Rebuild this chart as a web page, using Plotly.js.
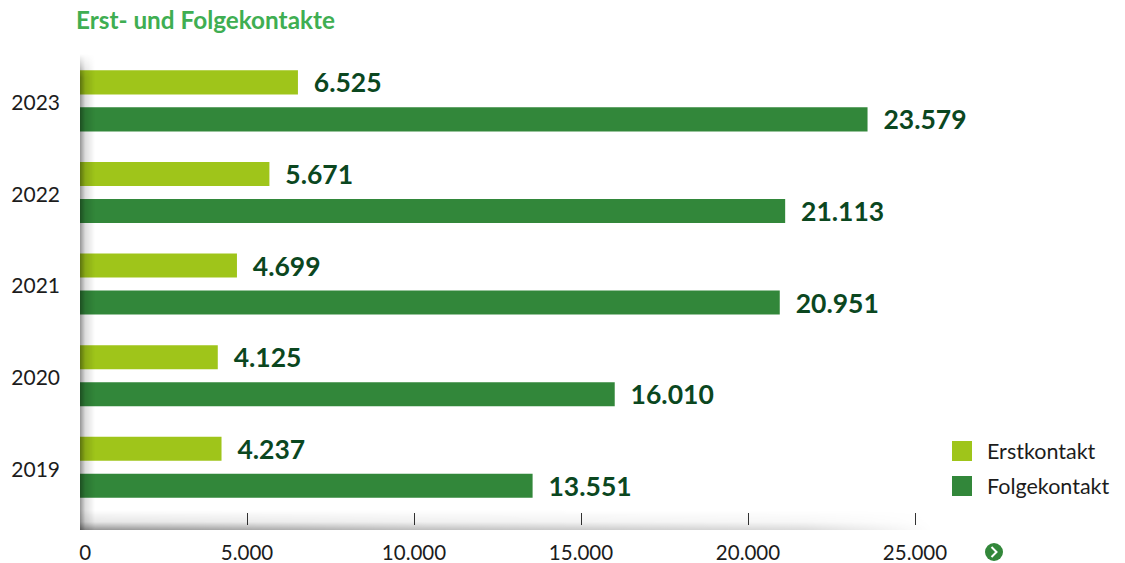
<!DOCTYPE html>
<html>
<head>
<meta charset="utf-8">
<script src="https://cdn.plot.ly/plotly-3.0.1.min.js"></script>
<style>html,body{margin:0;padding:0;background:#fff;overflow:hidden}</style>
</head>
<body>
<div id="chart" style="width:1125px;height:563px"></div>
<script>
// Contact counts per year, newest first
const years = ['2023', '2022', '2021', '2020', '2019'];
const erstkontakt = [6525, 5671, 4699, 4125, 4237];
const folgekontakt = [23579, 21113, 20951, 16010, 13551];
const seriesNames = ['Erstkontakt', 'Folgekontakt'];
const tickValues = [0, 5000, 10000, 15000, 20000, 25000];
const tickLabels = ['\u00a0\u00a00', '5.000', '10.000', '15.000', '20.000', '25.000'];
const chartTitle = 'Erst- und Folgekontakte';

const W = 1125, H = 563;
const M = {l: 80, r: 195, t: 58, b: 38};
const plotW = W - M.l - M.r, plotH = H - M.t - M.b;
const LIGHT = '#9fc51a', DARK = '#32873a', LABEL = '#0b471f', TEXT = '#1c1c1c';

// Pixel position to paper fraction
const px = x => (x - M.l) / plotW;
const py = y => 1 - (y - M.t) / plotH;

// Soft shadow along the left and bottom axis edges
const shadowW = 852, shadowH = 476;
const shadowSvg = `<svg xmlns="http://www.w3.org/2000/svg" width="${shadowW}" height="${shadowH}" viewBox="0 0 ${shadowW} ${shadowH}">
<defs>
<linearGradient id="l" x1="0" x2="1" y1="0" y2="0"><stop offset="0" stop-color="#000" stop-opacity=".42"/><stop offset=".35" stop-color="#000" stop-opacity=".14"/><stop offset="1" stop-color="#000" stop-opacity="0"/></linearGradient>
<linearGradient id="t" x1="0" x2="0" y1="0" y2="1"><stop offset="0" stop-color="#000"/><stop offset=".05" stop-color="#fff"/></linearGradient>
<linearGradient id="b" x1="0" x2="0" y1="0" y2="1"><stop offset="0" stop-color="#000" stop-opacity="0"/><stop offset=".6" stop-color="#000" stop-opacity=".1"/><stop offset="1" stop-color="#000" stop-opacity=".42"/></linearGradient>
<linearGradient id="r" x1="0" x2="1" y1="0" y2="0"><stop offset="0" stop-color="#fff"/><stop offset=".4" stop-color="#999"/><stop offset=".85" stop-color="#555"/><stop offset="1" stop-color="#000"/></linearGradient>
<mask id="mt"><rect width="${shadowW}" height="${shadowH}" fill="url(#t)"/></mask>
<mask id="mr"><rect width="${shadowW}" height="${shadowH}" fill="url(#r)"/></mask>
</defs>
<rect width="15" height="${shadowH}" fill="url(#l)" mask="url(#mt)"/>
<rect y="${shadowH - 20}" width="${shadowW}" height="20" fill="url(#b)" mask="url(#mr)"/>
</svg>`;

const barTrace = (name, values, color) => ({
  type: 'bar', orientation: 'h', name: name,
  y: years, x: values,
  marker: {color: color, line: {width: 0}},
  texttemplate: '\u00a0\u00a0%{x:,}',
  textposition: 'outside',
  constraintext: 'none',
  textfont: {family: 'Lato', size: 26.5, color: LABEL, weight: 700},
  cliponaxis: false,
  hoverinfo: 'name+x'
});

const data = [
  barTrace(seriesNames[0], erstkontakt, LIGHT),
  barTrace(seriesNames[1], folgekontakt, DARK)
];

const legendRows = [
  {name: seriesNames[0], color: LIGHT, top: 441},
  {name: seriesNames[1], color: DARK, top: 476}
];

const shapes = legendRows.map(r => ({
  type: 'rect', xref: 'paper', yref: 'paper', line: {width: 0}, fillcolor: r.color,
  x0: px(952), x1: px(972), y0: py(r.top), y1: py(r.top + 20)
}));
// Round "next" button beside the axis
shapes.push({
  type: 'circle', xref: 'paper', yref: 'paper', line: {width: 0}, fillcolor: DARK,
  x0: px(985), x1: px(1003), y0: py(543), y1: py(561)
});
shapes.push({
  type: 'path', xref: 'paper', yref: 'paper', line: {color: '#fff', width: 2},
  path: `M${px(991.5)},${py(547)} L${px(996.5)},${py(552)} L${px(991.5)},${py(557)}`
});

const annotations = legendRows.map(r => ({
  xref: 'paper', yref: 'paper', showarrow: false, xanchor: 'left', yanchor: 'middle',
  x: px(985), y: py(r.top + 10), text: r.name, font: {family: 'Lato', size: 21.5, color: TEXT}
}));

const layout = {
  width: W, height: H,
  margin: M,
  paper_bgcolor: '#fff', plot_bgcolor: '#fff',
  showlegend: false,
  separators: ',.',
  barmode: 'group', bargap: 0.192, bargroupgap: 0.351,
  font: {family: 'Lato', color: TEXT},
  title: {
    text: '<b>' + chartTitle + '</b>',
    x: 76 / W, xanchor: 'left', xref: 'container',
    y: 1 - 20 / H, yanchor: 'middle', yref: 'container',
    font: {family: 'Lato', size: 24.3, color: '#3fae52'}
  },
  xaxis: {
    range: [0, plotW / 0.0334],
    tickmode: 'array', tickvals: tickValues, ticktext: tickLabels,
    ticks: 'inside', ticklen: 12, tickwidth: 1, tickcolor: '#333',
    showgrid: false, zeroline: false, showline: false,
    ticklabelstandoff: 13,
    tickfont: {family: 'Lato', size: 20.5, color: TEXT},
    fixedrange: true
  },
  yaxis: {
    type: 'category',
    range: [4.63, -0.468],
    ticks: '', showgrid: false, zeroline: false, showline: false,
    ticklabelstandoff: 19, ticklabelshift: -2,
    tickfont: {family: 'Lato', size: 21, color: TEXT},
    fixedrange: true
  },
  shapes: shapes,
  annotations: annotations,
  images: [{
    source: 'data:image/svg+xml;charset=utf-8,' + encodeURIComponent(shadowSvg),
    xref: 'paper', yref: 'paper',
    x: 0, y: py(54), sizex: shadowW / plotW, sizey: shadowH / plotH,
    xanchor: 'left', yanchor: 'top', sizing: 'stretch', layer: 'above'
  }]
};

Plotly.newPlot('chart', data, layout, {displayModeBar: false, responsive: false});
</script>
</body>
</html>
